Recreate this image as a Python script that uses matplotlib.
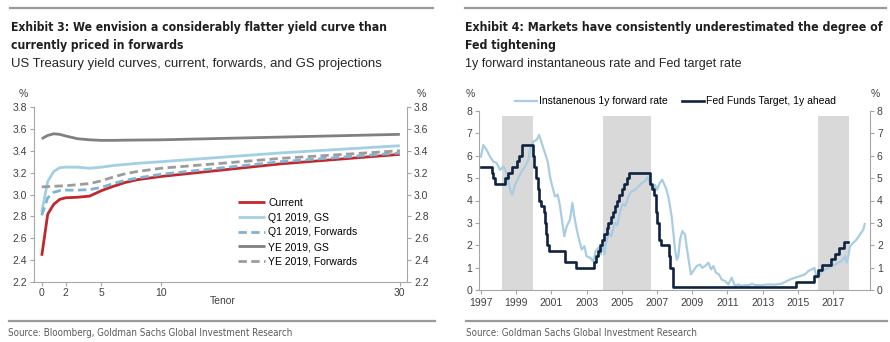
import matplotlib
matplotlib.use('Agg')
import matplotlib.pyplot as plt
from matplotlib import font_manager as fm
from matplotlib.lines import Line2D

# ---------------- data: Exhibit 3 ----------------
tenor = [0, 0.5, 1, 1.5, 2, 3, 4, 5, 6, 7, 8, 10, 20, 30]
current = [2.44, 2.82, 2.91, 2.955, 2.97, 2.975, 2.985, 3.035, 3.075, 3.11, 3.135, 3.165, 3.28, 3.367]
q1_gs = [2.84, 3.12, 3.21, 3.245, 3.25, 3.25, 3.24, 3.25, 3.265, 3.275, 3.285, 3.30, 3.38, 3.446]
q1_fwd = [2.81, 2.97, 3.02, 3.035, 3.04, 3.04, 3.045, 3.065, 3.10, 3.13, 3.15, 3.185, 3.30, 3.38]
ye_gs = [3.51, 3.54, 3.555, 3.55, 3.535, 3.51, 3.50, 3.495, 3.495, 3.497, 3.498, 3.50, 3.525, 3.55]
ye_fwd = [3.07, 3.072, 3.075, 3.078, 3.08, 3.09, 3.10, 3.125, 3.16, 3.19, 3.21, 3.24, 3.33, 3.40]
left_series = ["Current", "Q1 2019, GS", "Q1 2019, Forwards", "YE 2019, GS", "YE 2019, Forwards"]
tenor_ticks = [0, 2, 5, 10, 30]
left_yticks = [2.2, 2.4, 2.6, 2.8, 3.0, 3.2, 3.4, 3.6, 3.8]

# ---------------- data: Exhibit 4 ----------------
fwd_years = [1997.00, 1997.13, 1997.32, 1997.51, 1997.70, 1997.89, 1998.08, 1998.27, 1998.46, 1998.65,
             1998.78, 1998.93, 1999.12, 1999.31, 1999.50, 1999.69, 1999.78, 1999.97, 2000.16, 2000.30,
             2000.45, 2000.64, 2000.79, 2000.92, 2001.05, 2001.20, 2001.36, 2001.49, 2001.62, 2001.73,
             2001.87, 2002.06, 2002.19, 2002.30, 2002.44, 2002.57, 2002.72, 2002.87, 2003.00, 2003.19,
             2003.38, 2003.52, 2003.67, 2003.82, 2003.95, 2004.02, 2004.10, 2004.25, 2004.40, 2004.60,
             2004.75, 2004.90, 2005.05, 2005.20, 2005.37, 2005.55, 2005.75, 2005.95, 2006.13, 2006.30,
             2006.47, 2006.60, 2006.79, 2006.88, 2007.00, 2007.15, 2007.30, 2007.42, 2007.51, 2007.64,
             2007.74, 2007.83, 2007.93, 2008.02, 2008.12, 2008.21, 2008.31, 2008.44, 2008.59, 2008.68,
             2008.82, 2008.93, 2009.06, 2009.25, 2009.44, 2009.57, 2009.73, 2009.92, 2010.07, 2010.20,
             2010.35, 2010.52, 2010.67, 2010.86, 2011.05, 2011.24, 2011.43, 2011.62, 2011.81, 2012.00,
             2012.19, 2012.40, 2012.60, 2012.95, 2013.30, 2013.70, 2014.08, 2014.37, 2014.56, 2014.84,
             2015.12, 2015.41, 2015.60, 2015.79, 2015.94, 2016.07, 2016.20, 2016.35, 2016.54, 2016.73,
             2016.92, 2017.11, 2017.30, 2017.49, 2017.68, 2017.77, 2017.87, 2017.96, 2018.15, 2018.34,
             2018.53, 2018.72, 2018.80]
fwd_values = [5.96, 6.48, 6.26, 5.96, 5.74, 5.67, 5.37, 5.52, 5.22, 4.48,
              4.26, 4.70, 5.00, 5.30, 5.52, 5.82, 6.26, 6.63, 6.71, 6.93,
              6.56, 6.11, 5.74, 5.07, 4.63, 4.18, 4.26, 3.74, 3.00, 2.40,
              2.85, 3.15, 3.89, 3.29, 2.70, 2.26, 1.81, 1.96, 1.51, 1.44,
              1.29, 1.74, 1.89, 1.59, 2.11, 1.60, 2.10, 2.55, 2.40, 3.00,
              2.90, 3.50, 3.85, 3.75, 4.18, 4.41, 4.48, 4.63, 4.78, 4.85,
              5.05, 4.78, 4.48, 4.70, 4.48, 4.78, 4.93, 4.70, 4.55, 4.18,
              3.74, 3.29, 2.55, 1.81, 1.35, 1.51, 2.26, 2.63, 2.48, 1.96,
              1.22, 0.70, 0.85, 1.07, 1.14, 0.99, 1.07, 1.22, 0.92, 1.07,
              0.77, 0.70, 0.47, 0.40, 0.25, 0.55, 0.18, 0.25, 0.18, 0.22,
              0.21, 0.27, 0.22, 0.22, 0.25, 0.24, 0.28, 0.40, 0.47, 0.55,
              0.62, 0.70, 0.85, 0.92, 0.99, 0.55, 0.62, 0.85, 0.92, 0.99,
              1.07, 1.14, 1.22, 1.29, 1.51, 1.22, 1.51, 1.96, 2.11, 2.26,
              2.48, 2.70, 2.95]
fed_dates = [1997.00, 1997.62, 1997.70, 1997.80, 1998.36, 1998.55, 1998.78, 1999.05, 1999.17, 1999.32,
             1999.94, 2000.00, 2000.15, 2000.22, 2000.30, 2000.42, 2000.56, 2000.63, 2000.67, 2000.77,
             2000.86, 2001.79, 2002.40, 2003.40, 2003.52, 2003.63, 2003.77, 2003.86, 2004.00, 2004.13,
             2004.24, 2004.40, 2004.51, 2004.63, 2004.74, 2004.86, 2004.99, 2005.15, 2005.27, 2005.40,
             2006.58, 2006.72, 2006.84, 2006.96, 2006.99, 2007.12, 2007.24, 2007.68, 2007.73, 2007.90,
             2014.90, 2015.90, 2016.15, 2016.35, 2016.86, 2017.10, 2017.33, 2017.60, 2017.87]
fed_values = [5.5, 5.25, 5.0, 4.75, 5.0, 5.25, 5.5, 5.75, 6.0, 6.5,
              6.0, 5.5, 5.0, 4.5, 4.0, 3.75, 3.5, 3.0, 2.5, 2.0,
              1.75, 1.25, 1.0, 1.25, 1.5, 1.75, 2.0, 2.25, 2.5, 2.75,
              3.0, 3.25, 3.5, 3.75, 4.0, 4.25, 4.5, 4.75, 5.0, 5.25,
              4.75, 4.5, 4.25, 3.5, 3.0, 2.25, 2.0, 1.5, 1.0, 0.125,
              0.375, 0.625, 0.875, 1.125, 1.375, 1.625, 1.875, 2.125, 2.125]
shade_start = [1998.17, 2003.95, 2016.15]
shade_end = [1999.98, 2006.64, 2017.93]
shade_top = 7.78
right_series = ["Instanenous 1y forward rate", "Fed Funds Target, 1y ahead"]
year_ticks = list(range(1997, 2018, 2))
right_yticks = [0, 1, 2, 3, 4, 5, 6, 7, 8]

# ---------------- fonts ----------------
names = {f.name for f in fm.fontManager.ttflist}
SANS = 'Liberation Sans' if 'Liberation Sans' in names else 'DejaVu Sans'
plt.rcParams['font.family'] = [SANS, 'DejaVu Sans']


def find_condensed(bold):
    best = None
    for f in fm.fontManager.ttflist:
        cond = ('Narrow' in f.name or 'Condensed' in f.name or
                str(f.stretch) in ('condensed', 'semi-condensed', 'extra-condensed'))
        if not cond or 'Mono' in f.name or 'Serif' in f.name or f.style != 'normal':
            continue
        w = f.weight if isinstance(f.weight, int) else (700 if f.weight == 'bold' else 400)
        if (w >= 600) == bold:
            if best is None or ('Liberation' in f.name):
                best = f
    return best


cb = find_condensed(True)
cr = find_condensed(False)
if cb is not None:
    TITLE_FP = dict(fontproperties=fm.FontProperties(fname=cb.fname))
else:
    TITLE_FP = dict(family=[SANS, 'DejaVu Sans'], weight='bold')
if cr is not None:
    SRC_FP = dict(fontproperties=fm.FontProperties(fname=cr.fname))
else:
    SRC_FP = dict(family=[SANS, 'DejaVu Sans'])

W, H = 890, 342
fig = plt.figure(figsize=(W / 100, H / 100), dpi=100)
renderer = fig.canvas.get_renderer()


def fx(x):
    return x / W


def fy(y):
    return 1 - y / H


def fit_text(x, y, s, target_w, fs, **kw):
    t = fig.text(fx(x), fy(y), s, va='center', ha='left', **kw)
    t.set_fontsize(fs)
    w = t.get_window_extent(renderer).width
    t.set_fontsize(fs * target_w / w)
    return t


def rule(x0, x1, y):
    fig.add_artist(Line2D([fx(x0), fx(x1)], [fy(y), fy(y)], color='#9a9a9a', lw=1.6,
                          transform=fig.transFigure))


sub_kw = dict(family=[SANS, 'DejaVu Sans'], color='#262626')

# ---- headers ----
rule(10, 433, 8)
rule(465, 886, 8)
t1 = fit_text(11, 27, "Exhibit 3: We envision a considerably flatter yield curve than", 379, 10.5,
              color='#1f1f1f', **TITLE_FP)
t1b = fig.text(fx(11), fy(45.5), "currently priced in forwards", va='center', ha='left',
               color='#1f1f1f', **TITLE_FP)
t1b.set_fontsize(t1.get_fontsize())
fit_text(11, 63.5, "US Treasury yield curves, current, forwards, and GS projections", 371, 9.5, **sub_kw)

t2 = fit_text(465, 27, "Exhibit 4: Markets have consistently underestimated the degree of", 421, 10.5,
              color='#1f1f1f', **TITLE_FP)
t2b = fig.text(fx(465), fy(45.5), "Fed tightening", va='center', ha='left',
               color='#1f1f1f', **TITLE_FP)
t2b.set_fontsize(t2.get_fontsize())
fit_text(465, 63.5, "1y forward instantaneous rate and Fed target rate", 276, 9.5, **sub_kw)

# ---- footers ----
rule(9, 435, 321)
rule(466, 887, 321)
fit_text(8, 333, "Source: Bloomberg, Goldman Sachs Global Investment Research", 283, 7.5,
         color='#595959', **SRC_FP)
fit_text(466, 333, "Source: Goldman Sachs Global Investment Research", 230, 7.5,
         color='#595959', **SRC_FP)

AX_GRAY = '#a6a6a6'
TICK_TXT = '#404040'
FS = 7.5


def style_axes(ax, xpad):
    for s in ('left', 'right', 'bottom'):
        ax.spines[s].set_color(AX_GRAY)
        ax.spines[s].set_linewidth(0.8)
    ax.spines['top'].set_visible(False)
    ax.tick_params(axis='y', left=True, right=True, labelleft=True, labelright=True,
                   direction='out', length=3, width=0.8, color=AX_GRAY,
                   labelsize=FS, labelcolor=TICK_TXT, pad=2)
    ax.tick_params(axis='x', bottom=True, direction='out', length=3, width=0.8,
                   color=AX_GRAY, labelsize=FS, labelcolor=TICK_TXT, pad=xpad)


# ---------------- Exhibit 3 ----------------
ax1 = fig.add_axes([fx(34), fy(282), 373 / W, 175 / H])
styles = [
    (current, '#c0282e', '-'),
    (q1_gs, '#a3cfe3', '-'),
    (q1_fwd, '#7fb3d1', (0, (3, 1.6))),
    (ye_gs, '#808080', '-'),
    (ye_fwd, '#9c9c9c', (0, (3, 1.6))),
]
for (vals, col, ls), lab in zip(styles, left_series):
    ax1.plot(tenor, vals, color=col, lw=2.0, ls=ls, label=lab, solid_capstyle='butt')
ax1.set_xlim(-0.65, 30.6)
ax1.set_ylim(2.2, 3.8)
ax1.set_xticks(tenor_ticks)
ax1.set_yticks(left_yticks)
ax1.set_yticklabels([f"{v:.1f}" for v in left_yticks])
style_axes(ax1, 1.5)
ax1.legend(loc='upper left', bbox_to_anchor=(fx(238), fy(198)), bbox_transform=fig.transFigure,
           frameon=False, fontsize=FS, handlelength=2.6, handletextpad=0.3, labelspacing=0.45,
           borderpad=0, borderaxespad=0)
fig.text(fx(223), fy(301.5), "Tenor", fontsize=FS, ha='center', va='center', color=TICK_TXT)
fig.text(fx(23), fy(94), "%", fontsize=FS, ha='center', va='center', color=TICK_TXT)
fig.text(fx(421), fy(94), "%", fontsize=FS, ha='center', va='center', color=TICK_TXT)

# ---------------- Exhibit 4 ----------------
ax2 = fig.add_axes([fx(479), fy(290), 391 / W, 179 / H])
ax2.bar(shade_start, [shade_top] * len(shade_start),
        width=[e - s for s, e in zip(shade_start, shade_end)],
        align='edge', color='#d9d9d9', zorder=0, linewidth=0)
ax2.plot(fwd_years, fwd_values, color='#a8cde2', lw=1.6, label=right_series[0], zorder=2)
ax2.step(fed_dates, fed_values, where='post', color='#0f2340', lw=1.9,
         label=right_series[1], zorder=3)
ax2.set_xlim(1996.886, 2019.1)
ax2.set_ylim(0, 8)
ax2.set_xticks(year_ticks)
ax2.set_xticklabels([str(y) for y in year_ticks])
ax2.set_yticks(right_yticks)
style_axes(ax2, 3)
ax2.legend(loc='upper left', bbox_to_anchor=(fx(515), fy(96.5)), bbox_transform=fig.transFigure,
           ncol=2, frameon=False, fontsize=FS, handlelength=2.1, handletextpad=0.2,
           columnspacing=1.4, borderpad=0, borderaxespad=0)
fig.text(fx(470), fy(94), "%", fontsize=FS, ha='center', va='center', color=TICK_TXT)
fig.text(fx(875), fy(94), "%", fontsize=FS, ha='center', va='center', color=TICK_TXT)

fig.savefig('out.png', dpi=100)
